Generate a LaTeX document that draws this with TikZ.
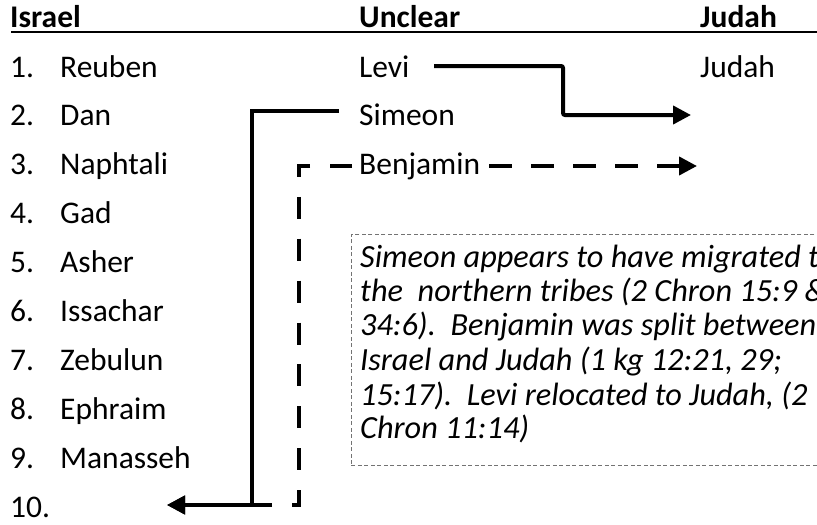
\documentclass[tikz,border=0pt]{standalone}
\usepackage{fontspec}
\setmainfont{Carlito}
\usetikzlibrary{arrows.meta}
\begin{document}
\begin{tikzpicture}[x=1pt,y=-1pt,
  lbl/.style={anchor=base west, inner sep=0pt, font=\fontsize{31.5}{37}\selectfont},
  hdr/.style={anchor=base west, inner sep=0pt, font=\fontsize{31.5}{37}\selectfont\bfseries},
  notetxt/.style={anchor=base west, inner sep=0pt, font=\fontsize{32.3}{36}\selectfont\itshape},
  notebox/.style={draw=black!55, line width=0.9pt, dash pattern=on 4pt off 2.5pt, anchor=north west, inner sep=0pt},
  conn/.style={line width=4pt, line join=miter, -{Triangle[length=18pt,width=18pt]}},
  dconnL/.style={conn, dash pattern=on 22pt off 19.9pt},
  dconnR/.style={conn, dash pattern=on 23pt off 19pt}]
\useasboundingbox (0,0) rectangle (817,525);
\clip (0,0) rectangle (817,525);
% headers
\node[hdr] (hIsrael) at (10,27) {Israel};
\node[hdr] (hUnclear) at (359,27) {Unclear};
\node[hdr] (hJudah) at (700,27) {Judah};
\coordinate (ulA) at (11,32);
\coordinate (ulB) at (817,32);
\draw[line width=2pt] (ulA) -- (ulB);
% Israel list
\foreach \n/\name [count=\i from 0] in {1/Reuben,2/Dan,3/Naphtali,4/Gad,5/Asher,6/Issachar,7/Zebulun,8/Ephraim,9/Manasseh}{
  \node[lbl] (num\n) at (10,77+48.9*\i) {\n.};
  \node[lbl] (tribe\n) at (60,77+48.9*\i) {\name};
}
\node[lbl] (num10) at (10,517) {10.};
% Unclear column
\node[lbl] (levi) at (359,77) {Levi};
\node[lbl] (simeon) at (359,125.9) {Simeon};
\node[lbl] (benjamin) at (359,174.8) {Benjamin};
% Judah column
\node[lbl] (judah) at (700,77) {Judah};
% connector coordinates
\coordinate (leviOut) at (434,66);
\coordinate (leviBend) at (563,115);
\coordinate (judTipA) at (691,115);
\coordinate (simOut) at (339,111);
\coordinate (simBend) at (252,505);
\coordinate (isrTip) at (167,505);
\coordinate (benL) at (352,166);
\coordinate (benBend) at (299,505);
\coordinate (benR) at (489,166);
\coordinate (judTipB) at (697,166);
\draw[conn, rounded corners=2pt] (leviOut) -| (leviBend) -- (judTipA);
\draw[conn] (simOut) -| (simBend) -- (isrTip);
\draw[dconnL] (benL) -| (benBend) -- (isrTip);
\draw[dconnR] (benR) -- (judTipB);
% note box
\node[notebox, minimum width=480pt, minimum height=231pt] (note) at (351,234) {};
\node[notetxt] (n1) at (360,267) {Simeon appears to have migrated to};
\node[notetxt] (n2) at (360,301) {the\ \ northern tribes (2 Chron 15:9 \&};
\node[notetxt] (n3) at (360,335) {34:6).\ \ Benjamin was split between};
\node[notetxt] (n4) at (360,370) {Israel and Judah (1 kg 12:21, 29;};
\node[notetxt] (n5) at (360,405) {15:17).\ \ Levi relocated to Judah, (2};
\node[notetxt] (n6) at (360,438) {Chron 11:14)};
\end{tikzpicture}
\end{document}
